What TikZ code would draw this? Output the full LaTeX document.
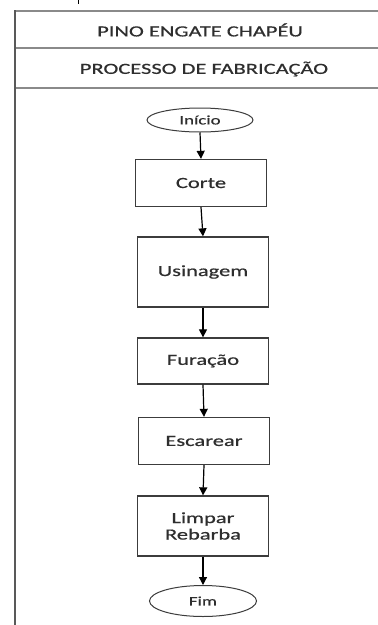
\documentclass[tikz,border=0pt]{standalone}
\usepackage{fontspec}
\setmainfont{Carlito}[FakeStretch=1.45,FakeBold=0.6]
\usetikzlibrary{arrows.meta,shapes.geometric}
\definecolor{frameC}{HTML}{8A8A8A}
\definecolor{boxC}{HTML}{3C3C3C}
\definecolor{txtC}{HTML}{2E2E2E}
\begin{document}
\begin{tikzpicture}[x=1pt,y=-1pt,
  stepbox/.style={draw=boxC,line width=1.3pt,minimum width=131pt,inner sep=0pt,align=center,font=\fontsize{15.5}{16.5}\selectfont,text=txtC},
  term/.style={draw=boxC,line width=1pt,ellipse,minimum width=106pt,inner sep=0pt,font=\fontsize{13}{14}\selectfont,text=txtC},
  flow/.style={draw=black,line width=1.2pt,-{Triangle[length=8pt,width=8pt]}},
  frameline/.style={draw=frameC,line width=1.4pt},
  title/.style={font=\fontsize{15.5}{16.5}\selectfont,text=txtC}]
\useasboundingbox (0,0) rectangle (378,625);
\fill[white] (0,0) rectangle (378,625);
% frame
\draw[frameline] (15,11) -- (378,11);
\draw[frameline] (15,48) -- (378,48);
\draw[frameline] (15,88) -- (378,88);
\draw[draw=gray!70!black,line width=1.6pt] (15,10.3) -- (15,625);
\draw[line width=1pt,black] (78,0) -- (78,4);
\node[title] (t1) at (200,30) {PINO ENGATE CHAPÉU};
\node[title] (t2) at (204,69) {PROCESSO DE FABRICAÇÃO};
% flow
\node[term,minimum height=24pt] (ini) at (200,120) {Início};
\node[stepbox,minimum height=47pt] (corte) at (201,183) {Corte};
\node[stepbox,minimum height=70pt] (usin) at (203,272) {Usinagem};
\node[stepbox,minimum height=46pt] (fur) at (203,361) {Furação};
\node[stepbox,minimum height=47pt] (esc) at (204,441) {Escarear};
\node[stepbox,minimum height=60pt] (limp) at (203,526) {Limpar\\Rebarba};
\node[term,minimum height=31pt,minimum width=107pt] (fim) at (203,601) {Fim};
\draw[flow] (ini.south) -- (corte.north);
\draw[flow] (corte.south) -- (usin.north);
\draw[flow] (usin.south) -- (fur.north);
\draw[flow] (fur.south) -- (esc.north);
\draw[flow] (esc.south) -- (limp.north);
\draw[flow] (limp.south) -- (fim.north);
\end{tikzpicture}
\end{document}
